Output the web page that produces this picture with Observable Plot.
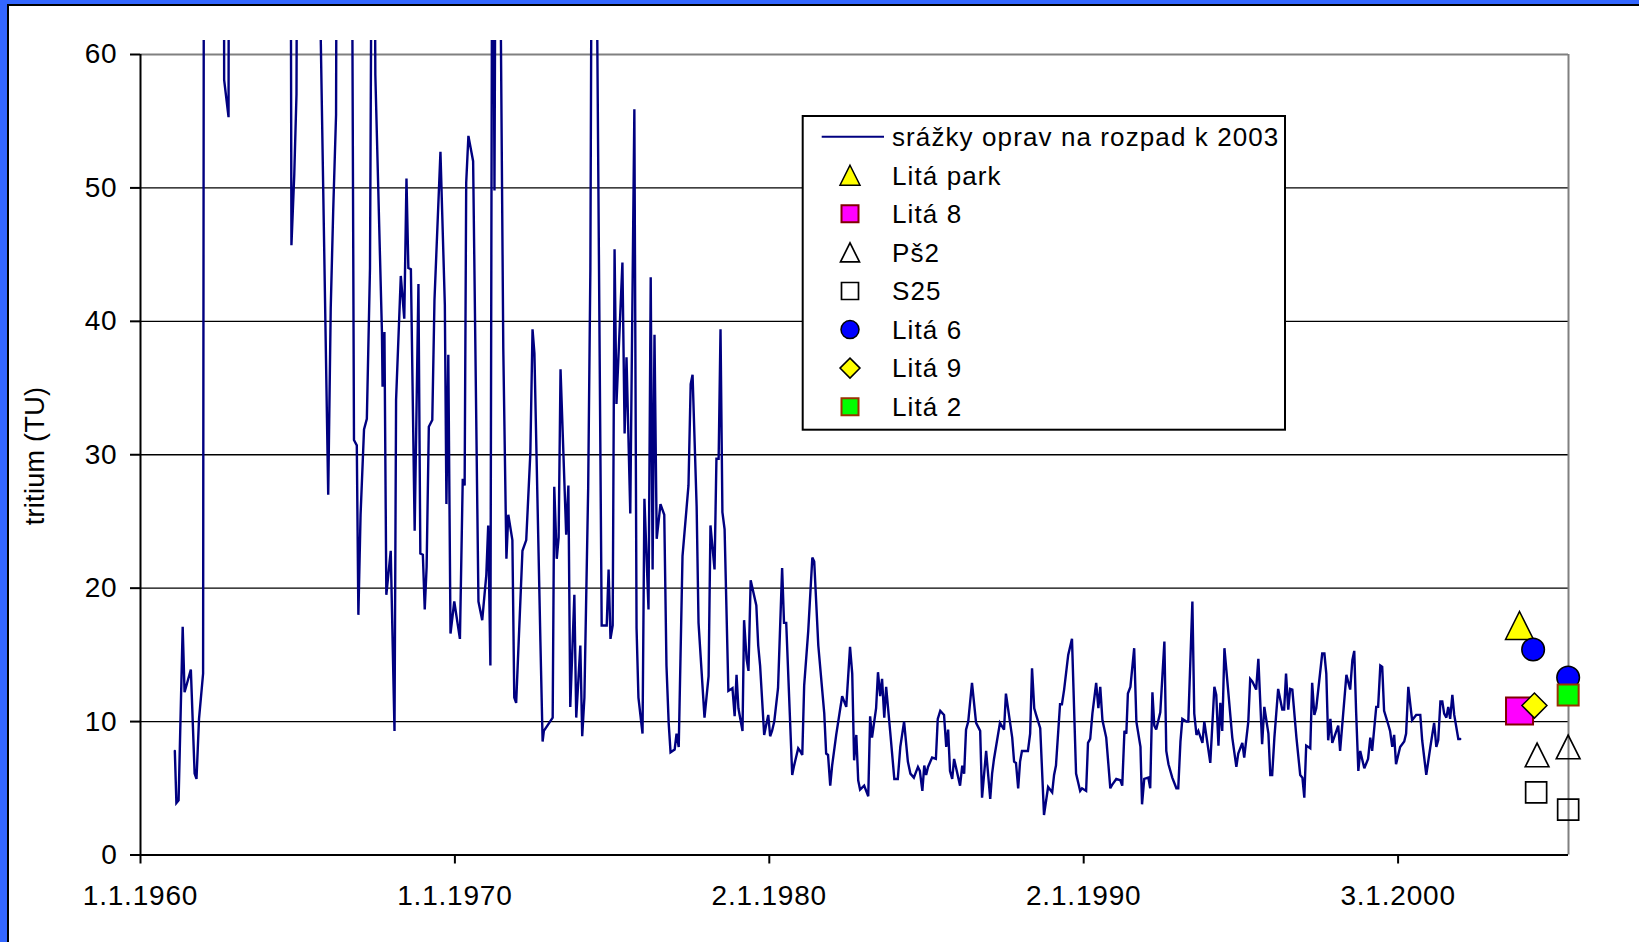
<!DOCTYPE html>
<html><head><meta charset="utf-8">
<script src="https://cdn.jsdelivr.net/npm/d3@7"></script>
<script src="https://cdn.jsdelivr.net/npm/@observablehq/plot@0.6"></script>
<style>
html,body{margin:0;padding:0;background:#fff;}
#wrap{position:relative;width:1639px;height:942px;overflow:hidden;font-family:"Liberation Sans",Arial,sans-serif;color:#000;}
#chart{position:absolute;left:0;top:0;}
.bar{position:absolute;}
#ylabel{position:absolute;left:34.5px;top:456px;transform:translate(-50%,-50%) rotate(-90deg);white-space:nowrap;font-size:27px;letter-spacing:0.3px;}
#legend{position:absolute;left:0;top:0;pointer-events:none;}
</style></head><body>
<div id="wrap">
  <div id="chart"></div>
  <div class="bar" style="left:0;top:0;width:1639px;height:4px;background:#3366ff"></div>
  <div class="bar" style="left:0;top:0;width:7px;height:942px;background:#3366ff"></div>
  <div class="bar" style="left:7px;top:4px;width:1632px;height:2px;background:#000"></div>
  <div class="bar" style="left:7px;top:4px;width:2px;height:938px;background:#000"></div>
  <div id="ylabel">tritium (TU)</div>
  <svg id="legend" width="1639" height="942"></svg>
</div>
<script>
// ---- data: precipitation tritium, decay-corrected to 2003 (decimal year, TU) ----
const lineYears = [
1961.09,1961.14,1961.21,1961.34,1961.40,1961.60,1961.72,1961.78,1961.86,1961.99,
1962.06,1962.30,1962.50,1962.62,1962.66,1962.80,1962.86,1963.20,1963.50,1963.80,
1964.20,1964.50,1964.74,1964.80,1964.89,1964.96,1965.03,1965.30,1965.55,1965.72,
1965.97,1966.05,1966.13,1966.22,1966.29,1966.50,1966.71,1966.79,1966.88,1966.93,
1967.00,1967.11,1967.20,1967.30,1967.40,1967.47,1967.68,1967.70,1967.76,1967.82,
1967.96,1968.08,1968.13,1968.28,1968.39,1968.46,1968.52,1968.60,1968.72,1968.84,
1968.90,1968.98,1969.04,1969.10,1969.17,1969.28,1969.35,1969.54,1969.68,1969.73,
1969.79,1969.86,1969.98,1970.16,1970.25,1970.31,1970.36,1970.43,1970.58,1970.75,
1970.87,1971.00,1971.06,1971.13,1971.20,1971.26,1971.33,1971.42,1971.54,1971.64,
1971.70,1971.83,1971.89,1971.95,1972.15,1972.27,1972.40,1972.47,1972.53,1972.72,
1972.79,1972.83,1973.11,1973.16,1973.24,1973.30,1973.36,1973.54,1973.61,1973.67,
1973.80,1973.86,1973.99,1974.05,1974.12,1974.24,1974.31,1974.38,1974.47,1974.67,
1974.83,1974.89,1974.95,1975.02,1975.08,1975.14,1975.33,1975.40,1975.46,1975.58,
1975.71,1975.78,1975.84,1975.97,1976.03,1976.16,1976.23,1976.29,1976.35,1976.42,
1976.54,1976.66,1976.73,1976.80,1976.86,1976.99,1977.05,1977.12,1977.24,1977.43,
1977.50,1977.56,1977.69,1977.75,1977.94,1978.07,1978.13,1978.26,1978.32,1978.39,
1978.45,1978.51,1978.58,1978.70,1978.83,1978.90,1978.96,1979.02,1979.15,1979.20,
1979.28,1979.34,1979.41,1979.59,1979.65,1979.71,1979.84,1979.90,1979.97,1980.03,
1980.09,1980.16,1980.28,1980.41,1980.47,1980.54,1980.73,1980.79,1980.92,1980.98,
1981.05,1981.11,1981.24,1981.37,1981.43,1981.56,1981.75,1981.81,1981.87,1981.94,
1982.00,1982.13,1982.26,1982.32,1982.45,1982.57,1982.64,1982.70,1982.77,1982.83,
1982.89,1983.02,1983.15,1983.21,1983.27,1983.40,1983.46,1983.53,1983.59,1983.66,
1983.72,1983.85,1983.98,1984.09,1984.17,1984.29,1984.41,1984.49,1984.60,1984.73,
1984.79,1984.87,1984.93,1984.99,1985.05,1985.18,1985.30,1985.36,1985.44,1985.56,
1985.63,1985.69,1985.75,1985.82,1985.88,1986.07,1986.14,1986.20,1986.26,1986.33,
1986.45,1986.58,1986.71,1986.77,1986.90,1987.03,1987.09,1987.15,1987.34,1987.47,
1987.53,1987.73,1987.79,1987.85,1987.92,1987.98,1988.04,1988.23,1988.30,1988.36,
1988.43,1988.49,1988.62,1988.74,1988.87,1989.00,1989.06,1989.12,1989.25,1989.31,
1989.38,1989.51,1989.63,1989.76,1989.89,1989.95,1990.08,1990.14,1990.21,1990.28,
1990.40,1990.47,1990.53,1990.60,1990.72,1990.85,1990.92,1991.04,1991.17,1991.23,
1991.30,1991.36,1991.41,1991.49,1991.61,1991.68,1991.81,1991.86,1991.93,1992.06,
1992.12,1992.19,1992.25,1992.31,1992.44,1992.57,1992.63,1992.70,1992.82,1992.95,
1993.01,1993.08,1993.14,1993.27,1993.33,1993.46,1993.52,1993.59,1993.65,1993.78,
1993.84,1993.90,1994.03,1994.16,1994.22,1994.29,1994.35,1994.41,1994.48,1994.60,
1994.73,1994.86,1994.92,1995.05,1995.11,1995.24,1995.30,1995.37,1995.49,1995.56,
1995.68,1995.75,1995.88,1995.94,1996.00,1996.07,1996.19,1996.32,1996.38,1996.44,
1996.51,1996.57,1996.64,1996.77,1996.89,1996.96,1997.02,1997.08,1997.21,1997.27,
1997.34,1997.40,1997.59,1997.66,1997.72,1997.78,1997.85,1997.91,1998.10,1998.16,
1998.36,1998.48,1998.55,1998.61,1998.67,1998.74,1998.80,1998.93,1999.05,1999.12,
1999.18,1999.31,1999.37,1999.44,1999.50,1999.56,1999.69,1999.75,1999.82,1999.88,
1999.94,2000.07,2000.20,2000.26,2000.33,2000.45,2000.58,2000.71,2000.77,2000.90,
2001.03,2001.15,2001.22,2001.28,2001.35,2001.41,2001.47,2001.54,2001.60,2001.66,
2001.73,2001.79,2001.92,2001.98
];
const lineValues = [
7.8,3.9,4.1,17.1,12.2,13.9,6.1,5.7,10.2,13.6,
180,260,220,140,58.1,55.3,160,420,520,330,
230,170,110,45.7,51.0,57.0,110,140,100,63,
27.0,41.0,48.4,55.5,120,140,80,31.1,30.7,18.0,
25.5,31.9,32.7,44.0,95,58.5,39.2,35.1,39.2,19.5,
22.8,9.3,34.1,43.4,40.2,50.7,44.0,43.9,24.3,42.8,
22.6,22.5,18.4,21.6,32.1,32.6,41.6,52.7,41.2,26.3,
37.5,16.6,19.0,16.2,28.2,27.7,50.4,53.9,52.0,19.0,
17.6,21.0,24.7,14.2,85,49.8,95,75,38.0,22.2,
25.5,23.6,11.8,11.4,22.8,23.6,30.1,39.4,37.6,16.0,
8.5,9.3,10.3,27.6,22.2,23.8,36.4,24.0,27.7,11.1,
19.5,10.3,15.7,8.9,11.8,27.5,44.0,90,80,17.2,
17.2,21.4,16.2,17.2,45.4,33.8,44.4,31.6,37.3,25.6,
55.9,17.0,11.8,9.1,26.7,18.4,43.3,21.4,39.0,23.7,
26.3,25.5,14.2,9.9,7.7,7.9,9.1,8.1,22.4,27.7,
35.3,36.0,26.1,17.4,10.3,13.4,24.7,21.4,29.7,29.7,
39.4,25.7,24.4,12.3,12.5,10.4,13.5,11.0,9.3,17.6,
14.7,13.8,20.6,18.7,15.7,14.2,9.0,9.7,10.5,8.9,
9.3,10.0,12.5,21.5,17.4,17.4,6.0,6.7,8.0,7.8,
7.5,12.7,16.8,22.3,22.0,15.7,10.6,7.6,7.5,5.2,
6.7,9.0,11.0,11.9,11.1,15.6,13.6,7.1,9.0,5.6,
4.9,5.2,4.4,10.4,8.8,11.0,13.7,11.9,13.2,10.3,
12.6,9.2,5.7,5.7,8.1,10.0,7.0,6.1,5.8,6.6,
6.3,4.8,6.7,6.0,6.6,7.3,7.2,10.2,10.8,10.5,
8.1,9.4,6.3,5.7,7.2,5.2,6.7,6.1,9.4,10.0,
12.9,9.9,9.3,4.3,7.8,4.2,6.1,7.2,9.9,9.4,
12.1,8.8,7.0,6.9,5.0,7.0,7.8,7.8,9.1,14.0,
11.0,10.5,9.5,3.0,5.1,4.7,6.0,6.7,11.3,11.3,
12.4,15.0,16.2,6.1,4.8,5.0,4.8,8.4,8.7,10.6,
12.9,11.0,12.6,10.1,8.8,5.0,5.3,5.7,5.6,5.2,
9.3,9.1,12.1,12.6,15.5,10.0,8.1,3.8,5.7,5.8,
5.0,12.2,9.7,9.4,10.7,16.0,7.8,6.8,5.8,5.0,
5.0,8.5,10.2,10.0,10.0,19.0,10.6,9.0,9.3,8.4,
10.0,9.0,6.9,12.6,12.0,8.2,11.4,9.3,15.5,12.3,
8.8,6.6,7.6,8.4,7.3,10.0,13.2,13.0,12.4,14.7,
8.3,11.1,9.1,6.0,6.0,8.8,12.45,10.9,10.9,13.6,
10.9,12.45,12.4,8.8,6.0,5.8,4.3,8.2,8.0,12.9,
10.5,11.0,15.1,15.1,13.6,8.6,10.2,8.4,9.7,7.8,
13.5,12.4,14.6,15.3,10.7,6.3,7.8,6.5,7.2,8.8,
7.8,11.1,11.1,14.2,14.1,10.8,9.8,9.3,8.1,9.0,
6.8,8.1,8.5,9.1,12.6,10.1,10.5,10.5,8.6,6.0,
8.1,9.9,8.1,8.6,11.5,11.5,10.6,10.3,11.1,10.2,
12.0,10.5,8.7,8.7
];
// ---- sampled wells ----
const sampleSeries = ["Litá park","Litá 8","Pš2","Pš2","S25","S25","Litá 6","Litá 6","Litá 9","Litá 2"];
const sampleDates  = ["2003-11-14","2003-11-14","2004-06-05","2005-06-01","2004-05-25","2005-06-01","2004-04-20","2005-06-01","2004-05-05","2005-06-01"];
const sampleValues = [17.2,10.8,7.5,8.1,4.7,3.4,15.4,13.3,11.2,12.0];
const legendNames = ["srážky oprav na rozpad k 2003","Litá park","Litá 8","Pš2","S25","Litá 6","Litá 9","Litá 2"];
// ---- axes ----
const xTickDates  = ["1960-01-01","1970-01-01","1980-01-02","1990-01-02","2000-01-03"];
const xTickLabels = ["1.1.1960","1.1.1970","2.1.1980","2.1.1990","3.1.2000"];
const yTicks = [0,10,20,30,40,50,60];
const xDomain = [new Date("1960-01-01"), new Date("2005-06-05")];

function yearToDate(y){const Y=Math.floor(y);const a=Date.UTC(Y,0,1),b=Date.UTC(Y+1,0,1);return new Date(a+(y-Y)*(b-a));}
const lineData = lineYears.map((y,i)=>({date:yearToDate(y), value:lineValues[i]}));
const samples = sampleSeries.map((s,i)=>({series:s, date:new Date(sampleDates[i]), value:sampleValues[i]}));
const tickLabelMap = new Map(xTickDates.map((d,i)=>[+new Date(d), xTickLabels[i]]));

const symTri = {draw(c,size){const r=Math.sqrt(size/Math.PI);c.moveTo(0,-r);c.lineTo(r,r);c.lineTo(-r,r);c.closePath();}};
const symSq = {draw(c,size){const r=Math.sqrt(size/Math.PI);c.rect(-r,-r,2*r,2*r);}};
const symDia = {draw(c,size){const r=Math.sqrt(size/Math.PI);c.moveTo(0,-r);c.lineTo(r,0);c.lineTo(0,r);c.lineTo(-r,0);c.closePath();}};
const symCirc = {draw(c,size){const r=Math.sqrt(size/Math.PI);c.moveTo(r,0);c.arc(0,0,r,0,2*Math.PI);}};

const styles = {
  "Litá park": {symbol:symTri, fill:"#ffff00", stroke:"#000", r:14, lr:10, sw:1.5},
  "Litá 8":    {symbol:symSq,  fill:"#ff00ff", stroke:"#800000", r:13.5, lr:8.5, sw:2},
  "Pš2":       {symbol:symTri, fill:"none",    stroke:"#000", r:11.8, lr:9.5, sw:1.7},
  "S25":       {symbol:symSq,  fill:"none",    stroke:"#000", r:10.5, lr:8.5, sw:1.7},
  "Litá 6":    {symbol:symCirc,fill:"#0000ff", stroke:"#000", r:11.3, lr:9, sw:1.5},
  "Litá 9":    {symbol:symDia, fill:"#ffff00", stroke:"#000", r:12.5, lr:10, sw:1.5},
  "Litá 2":    {symbol:symSq,  fill:"#00ff00", stroke:"#993300", r:10.5, lr:8.5, sw:2}
};
const seriesOrder = ["Litá park","Litá 8","Pš2","S25","Litá 6","Litá 9","Litá 2"];

const chart = Plot.plot({
  width:1639, height:942,
  marginLeft:140, marginRight:71, marginTop:54, marginBottom:87.5,
  style:{fontFamily:"'Liberation Sans', Arial, sans-serif", fontSize:"28px", letterSpacing:"0.8px", background:"transparent", color:"#000", overflow:"visible"},
  x:{type:"utc", domain:xDomain},
  y:{domain:[0,60]},
  marks:[
    Plot.ruleY([10,20,30,40,50], {stroke:"#000", strokeWidth:1.4}),
    Plot.ruleY([60], {stroke:"#808080", strokeWidth:2}),
    Plot.ruleX([xDomain[1]], {stroke:"#808080", strokeWidth:2}),
    Plot.line(lineData, {x:"date", y:"value", stroke:"#000080", strokeWidth:2.4, clip:true, strokeLinejoin:"miter", strokeMiterlimit:3}),
    ...seriesOrder.map(s => Plot.dot(samples.filter(d=>d.series===s), {
      x:"date", y:"value", symbol:styles[s].symbol, r:styles[s].r,
      fill:styles[s].fill, stroke:styles[s].stroke, strokeWidth:styles[s].sw})),
    Plot.ruleX([xDomain[0]], {stroke:"#000", strokeWidth:2}),
    Plot.ruleY([0], {stroke:"#000", strokeWidth:2}),
    Plot.axisY({ticks:yTicks, tickSize:10, tickPadding:13, fontSize:28, label:null, strokeWidth:2}),
    Plot.axisX({ticks:xTickDates.map(d=>new Date(d)), tickFormat:d=>tickLabelMap.get(+d), tickSize:9, tickPadding:21, fontSize:28, label:null, strokeWidth:2})
  ]
});
document.getElementById("chart").appendChild(chart);
// Excel lets the series run a little above the plot area before clipping
chart.querySelectorAll("clipPath rect").forEach(r=>{
  const y=+r.getAttribute("y"), h=+r.getAttribute("height");
  r.setAttribute("y", y-14); r.setAttribute("height", h+14);
});

// ---- legend ----
const lg = d3.select("#legend");
lg.append("rect").attr("x",802.7).attr("y",116).attr("width",482.3).attr("height",313.7)
  .attr("fill","#fff").attr("stroke","#000").attr("stroke-width",2);
const rowY = i => 136.7 + 38.57*i;
lg.append("line").attr("x1",821.7).attr("x2",884).attr("y1",rowY(0)).attr("y2",rowY(0))
  .attr("stroke","#000080").attr("stroke-width",2);
seriesOrder.forEach((s,k)=>{
  const st = styles[s];
  const p = d3.path(); st.symbol.draw(p, Math.PI*st.lr*st.lr);
  lg.append("path").attr("d", p.toString()).attr("transform",`translate(850,${rowY(k+1)})`)
    .attr("fill", st.fill==="none" ? "#fff" : st.fill).attr("stroke", st.stroke).attr("stroke-width", st.sw);
});
legendNames.forEach((t,i)=>{
  lg.append("text").attr("x",892).attr("y",rowY(i)+9.3).attr("font-size",26)
    .attr("font-family","'Liberation Sans', Arial, sans-serif").attr("letter-spacing",1.1).text(t);
});
</script>
</body></html>
